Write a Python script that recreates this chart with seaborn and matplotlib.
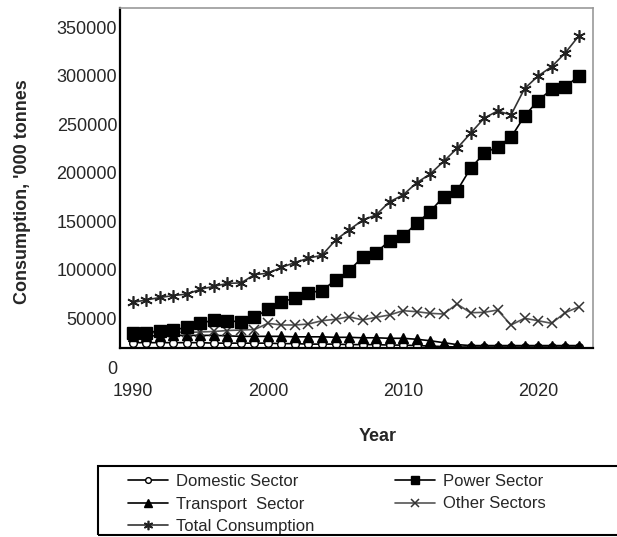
import numpy as np
import pandas as pd
import matplotlib
matplotlib.use("Agg")
import matplotlib.pyplot as plt
import matplotlib.transforms as mtransforms
from matplotlib.patches import Rectangle
import seaborn as sns

# ── Data ('000 tonnes) ───────────────────────────────────────────────────────
years = list(range(1990, 2024))

domestic = [5500, 5500, 5500, 5500, 5500, 5500, 5000, 5000, 5000, 5000,
            5000, 4500, 4500, 4000, 4000, 4000, 3500, 3500, 3500, 3000,
            3000, 2500, 2000, 1500, 1000, 1000, 1000, 1000, 1000, 1000,
            1000, 1000, 1000, 1000]

power = [15100, 15800, 17800, 18500, 21300, 25400, 28800, 27800, 27100, 31600,
         39800, 47700, 51200, 56900, 59000, 70000, 79600, 93400, 98100, 110500,
         115300, 128300, 140300, 155700, 161900, 184900, 200300, 207200, 216900, 238800,
         254600, 266300, 268400, 280000]

transport = [12500, 12500, 12500, 13000, 13000, 13000, 13000, 12500, 12000, 12000,
             12000, 12000, 11500, 11500, 11500, 11000, 11000, 10500, 10500, 10000,
             10000, 9000, 7500, 5500, 3500, 2500, 2500, 2500, 2500, 2500,
             2500, 2500, 2500, 2500]

other = [14000, 15500, 16000, 16500, 16000, 16500, 17000, 18000, 18500, 19000,
         25400, 23700, 23700, 24700, 28100, 29500, 32200, 28800, 31600, 34000,
         38400, 37400, 35700, 35000, 45300, 36300, 36700, 39100, 23700, 30600,
         28100, 25400, 36300, 42200]

total = [47000, 49500, 52000, 54000, 55500, 60500, 63500, 66500, 67000, 75500,
         77000, 83000, 88000, 92500, 95500, 111000, 121500, 131500, 137000, 150500,
         157500, 170000, 179000, 192000, 205500, 221000, 236500, 244000, 240000, 267000,
         280000, 289500, 303500, 321000]

series = [
    ("Domestic Sector",   domestic),
    ("Transport  Sector", transport),
    ("Total Consumption", total),
    ("Power Sector",      power),
    ("Other Sectors",     other),
]

# marker styles per series
styles = {
    "Domestic Sector":   dict(marker="o", ms=5.5, mfc="white", mec="black", mew=1.0, color="black"),
    "Transport  Sector": dict(marker="^", ms=7, mfc="black", mec="black", color="black"),
    "Total Consumption": dict(marker=(6, 2, 0), ms=9, mfc="none", mec="#222222", mew=1.2, color="#333333"),
    "Power Sector":      dict(marker="s", ms=8, mfc="black", mec="black", color="black"),
    "Other Sectors":     dict(marker="x", ms=7, mfc="none", mec="#333333", mew=1.1, color="#555555"),
}

df = pd.concat(
    [pd.DataFrame({"Year": years, "Value": vals, "Series": name}) for name, vals in series],
    ignore_index=True,
)

# ── Plot ─────────────────────────────────────────────────────────────────────
sns.set_style("white")
plt.rcParams["font.family"] = ["Liberation Sans", "DejaVu Sans"]

fig = plt.figure(figsize=(6.17, 5.37), dpi=100)
ax = fig.add_axes([120 / 617, 1 - 348 / 537, 473 / 617, 340 / 537])

draw_order = ["Domestic Sector", "Transport  Sector", "Other Sectors",
              "Power Sector", "Total Consumption"]
for name in draw_order:
    st = styles[name]
    sns.lineplot(
        data=df[df["Series"] == name], x="Year", y="Value", ax=ax,
        color=st["color"], marker=st["marker"], markersize=st["ms"],
        markerfacecolor=st["mfc"], markeredgecolor=st["mec"],
        markeredgewidth=st.get("mew", 1.0), linewidth=1.2, label=name,
        legend=False,
    )

ax.set_xlim(1989.04, 2024.07)
ax.set_ylim(0, 350000)
ax.set_xticks([1990, 2000, 2010, 2020])
ax.set_yticks(np.arange(0, 350001, 50000))
ax.tick_params(axis="x", length=0, pad=25, labelsize=13)
ax.tick_params(axis="y", direction="in", length=5, width=1, pad=2, labelsize=13)

# the y labels sit a little below their tick marks in the original
offset = mtransforms.ScaledTranslation(0, -0.19, fig.dpi_scale_trans)
for lab in ax.get_yticklabels():
    lab.set_transform(lab.get_transform() + offset)

for side in ["left", "bottom"]:
    ax.spines[side].set_color("black")
    ax.spines[side].set_linewidth(1.6)
for side in ["top", "right"]:
    ax.spines[side].set_color("#999999")
    ax.spines[side].set_linewidth(1.2)

ax.set_xlabel("Year", fontsize=13, fontweight="bold")
ax.set_ylabel("Consumption, '000 tonnes", fontsize=13, fontweight="bold")
ax.xaxis.set_label_coords(0.545, -0.235)
ax.yaxis.set_label_coords(-0.188, 0.46)

# legend box (right edge runs off the image, as in the original)
fig.patches.append(Rectangle((98 / 617, 2 / 537), 540 / 617, 69 / 537,
                             transform=fig.transFigure, fill=False,
                             edgecolor="black", linewidth=1.5))

handles, labels = ax.get_legend_handles_labels()
order = [labels.index(n) for n, _ in series]
fig.legend([handles[i] for i in order], [labels[i] for i in order],
           loc="upper left", bbox_to_anchor=(128 / 617, 1 - 474 / 537),
           ncol=2, frameon=False, fontsize=12, handlelength=2.4,
           handletextpad=0.5, labelspacing=0.45, columnspacing=4.8,
           borderpad=0, borderaxespad=0, markerscale=0.75)

plt.savefig("out.png", dpi=100)
